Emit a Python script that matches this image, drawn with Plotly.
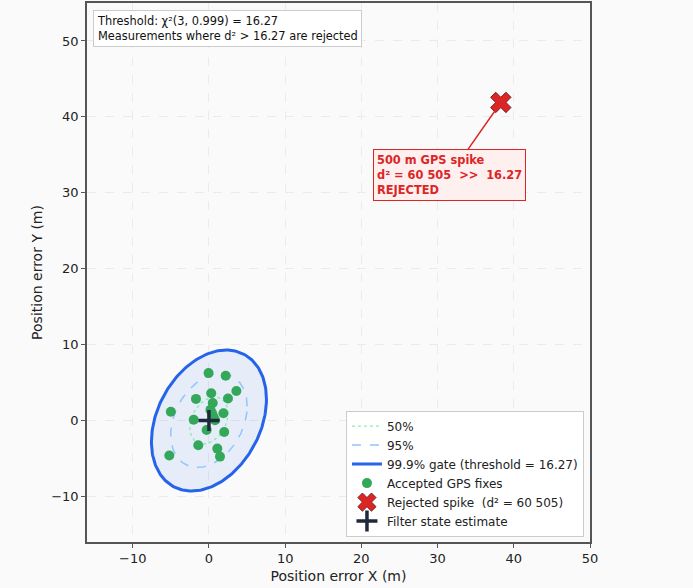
import numpy as np
import plotly.graph_objects as go

# ---- data ----
fix_x = [-0.05, 2.2, 3.6, 0.3, -1.7, 2.5, 0.5, -5.0, 0.2, 0.4, 1.9, -2.0, 0.6, 0.8, -0.3, 2.0, -1.4, 1.1, 1.45, -5.2]
fix_y = [6.25, 5.9, 3.9, 3.6, 2.85, 2.9, 2.3, 1.15, 1.4, 1.0, 0.95, 0.1, 0.5, 0.05, -1.25, -1.5, -3.25, -3.7, -4.75, -4.6]
spike_x = [38.3]
spike_y = [41.9]
state_x = [0.0]
state_y = [0.0]
cov = [[3.5, 1.3], [1.3, 5.3]]          # innovation covariance (m^2)
ellipse_names = ["50%", "95%", "99.9% gate (threshold = 16.27)"]
ellipse_levels = [1.8, 7.2, 16.27]       # d^2 levels of drawn contours
threshold = 16.27
spike_d2 = "60 505"
x_ticks = [-10, 0, 10, 20, 30, 40, 50]
y_ticks = [-10, 0, 10, 20, 30, 40, 50]

FONT = "DejaVu Sans"
L = np.linalg.cholesky(np.array(cov))
t = np.linspace(0, 2 * np.pi, 241)
unit = np.vstack([np.cos(t), np.sin(t)])


def ellipse(level):
    pts = L @ unit * np.sqrt(level)
    return pts[0] + state_x[0], pts[1] + state_y[0]


fig = go.Figure()

gx, gy = ellipse(ellipse_levels[2])
fig.add_trace(go.Scatter(x=gx, y=gy, mode="lines", fill="toself",
                         fillcolor="rgba(37,99,235,0.09)", line=dict(width=0),
                         showlegend=False, hoverinfo="skip"))

styles = [dict(color="#86efac", width=1.3, dash="dot"),
          dict(color="#93c5fd", width=1.5, dash="dash"),
          dict(color="#2563eb", width=3, dash="solid")]
for name, lev, st in zip(ellipse_names, ellipse_levels, styles):
    ex, ey = ellipse(lev)
    fig.add_trace(go.Scatter(x=ex, y=ey, mode="lines", name=name, line=st))

fig.add_trace(go.Scatter(x=fix_x, y=fix_y, mode="markers", name="Accepted GPS fixes",
                         marker=dict(color="#34a85a", size=10, line=dict(width=0))))
fig.add_trace(go.Scatter(x=spike_x, y=spike_y, mode="markers",
                         name=f"Rejected spike  (d² = {spike_d2})",
                         marker=dict(symbol="x", color="#dc2626", size=18,
                                     line=dict(color="#7f1d1d", width=1))))
fig.add_trace(go.Scatter(x=state_x, y=state_y, mode="markers", name="Filter state estimate",
                         marker=dict(symbol="cross-thin", size=15,
                                     line=dict(color="#1e293b", width=3.5))))

fig.add_annotation(x=spike_x[0], y=spike_y[0], ax=31.6, ay=32.3, axref="x", ayref="y",
                   text=f"500 m GPS spike<br>d² = {spike_d2}  >>  {threshold}<br>REJECTED",
                   showarrow=True, arrowhead=0, arrowwidth=1.5, arrowcolor="#dc2626",
                   standoff=8, align="left",
                   font=dict(family=FONT, size=11.4, color="#dc2626", weight="bold"),
                   bgcolor="#fff0f0", bordercolor="#dc2626", borderwidth=1, borderpad=3)

fig.add_annotation(xref="paper", yref="paper", x=0.012, y=0.987, xanchor="left", yanchor="top",
                   text=f"Threshold: χ²(3, 0.999) = {threshold}<br>Measurements where d² > {threshold} are rejected",
                   showarrow=False, align="left",
                   font=dict(family=FONT, size=11.4, color="#111"),
                   bgcolor="white", bordercolor="#cccccc", borderwidth=1, borderpad=3)

axis_common = dict(showline=True, mirror=True, linecolor="#555", linewidth=1.5,
                   ticks="outside", ticklen=4, tickcolor="#555",
                   showgrid=True, gridcolor="#ebebeb", griddash="dash", gridwidth=1,
                   zeroline=False, tickfont=dict(family=FONT, size=13, color="#222"))
fig.update_xaxes(range=[-16, 50], tickvals=x_ticks,
                 title=dict(text="Position error X (m)", font=dict(family=FONT, size=14, color="#222"), standoff=6),
                 **axis_common)
fig.update_yaxes(range=[-16, 55], tickvals=y_ticks,
                 title=dict(text="Position error Y (m)", font=dict(family=FONT, size=14, color="#222"), standoff=5),
                 **axis_common)

fig.update_layout(width=693, height=588, margin=dict(l=87, r=103, t=1, b=46),
                  paper_bgcolor="#fafafa", plot_bgcolor="#fafafa",
                  font=dict(family=FONT, size=12, color="#222"),
                  legend=dict(x=0.988, y=0.01, xanchor="right", yanchor="bottom",
                              bgcolor="white", bordercolor="#cccccc", borderwidth=1,
                              font=dict(family=FONT, size=12, color="#222"),
                              tracegroupgap=0, itemsizing="trace"))

fig.write_html("out.html", config={"displayModeBar": False},
               post_script="document.body.style.margin='0';document.body.style.background='#fafafa';")
